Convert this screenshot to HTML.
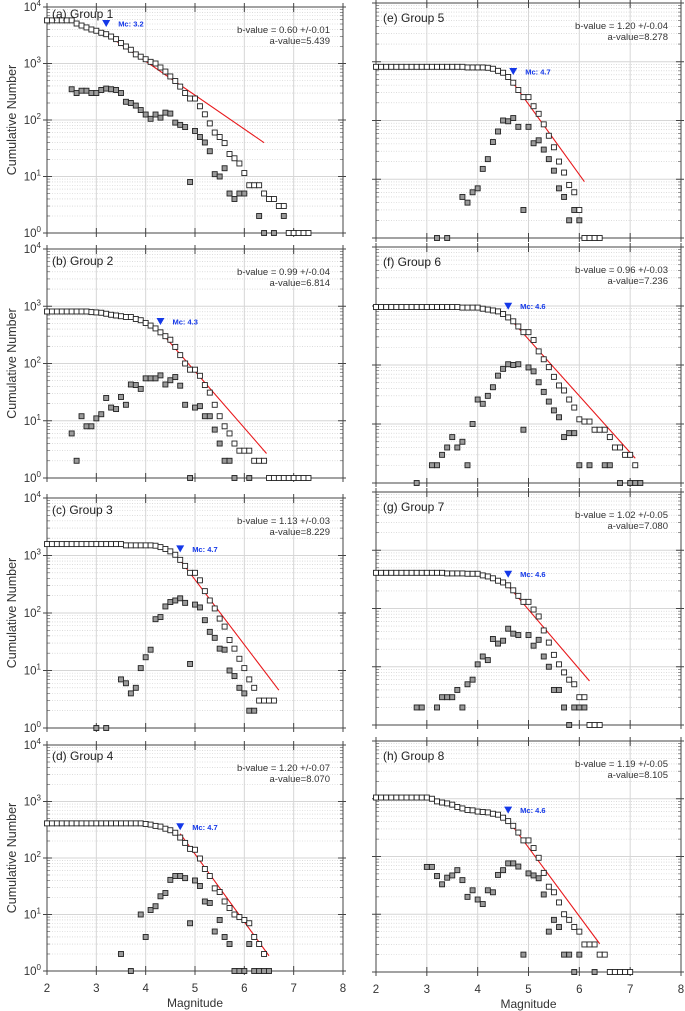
<!DOCTYPE html>
<html><head><meta charset="utf-8">
<style>
html,body{margin:0;padding:0;background:#fff;}
svg{display:block;font-family:"Liberation Sans",Arial,sans-serif;}
</style></head>
<body>
<svg id="fig" width="685" height="1011" viewBox="0 0 685 1011" xmlns="http://www.w3.org/2000/svg"></svg>
<script>
// ---------- DATA ----------
const panelLabels = ["(a) Group 1","(b) Group 2","(c) Group 3","(d) Group 4","(e) Group 5","(f) Group 6","(g) Group 7","(h) Group 8"];
const bValues = [0.60,0.99,1.13,1.20,1.20,0.96,1.02,1.19];
const bErrors = ["0.01","0.04","0.03","0.07","0.04","0.03","0.05","0.05"];
const aValues = [5.439,6.814,8.229,8.070,8.278,7.236,7.080,8.105];
const mcValues = [3.2,4.3,4.7,4.7,4.7,4.6,4.6,4.6];
const lineEnds = [6.4,6.45,6.7,6.5,6.1,7.1,6.2,6.4];
const cumStart = 2.0;
const cumA = [5800,5800,5800,5800,5800,5800,5100,4700,4350,4000,3800,3500,3300,3000,2700,2300,2000,1750,1450,1320,1190,1070,1000,850,720,590,490,390,300,240,240,175,126,87,60,50,39,25,21,17,11.5,7,7,7,5,4,4,3,3,1,1,1,1,1];
const cumB = [810,810,810,810,810,810,810,810,810,790,780,770,740,710,690,670,650,650,600,570,510,460,410,350,300,260,195,140,100,78,78,61,42,31,19,12,8,6,4,3,3,3,2,2,2,1,1,1,1,1,1,1,1,1];
const cumC = [1580,1580,1580,1580,1580,1580,1580,1580,1580,1580,1580,1580,1580,1580,1580,1580,1500,1500,1500,1500,1500,1500,1480,1400,1300,1180,1030,840,660,500,500,370,240,165,120,80,58,34,24,16,11,7,5,3,3,3,3];
const cumD = [410,410,410,410,410,410,410,410,410,410,410,410,410,410,410,410,410,410,410,410,400,390,370,360,330,310,280,230,185,145,140,98,64,48,29,25,17,13,10,9,8,7,4,3,2];
const cumE = [820,820,820,820,820,820,820,820,820,820,820,820,820,820,820,820,820,820,800,800,800,800,790,760,700,650,550,440,330,250,250,175,130,86,55,35,20,13,8,6,3,1,1,1,1];
const cumF = [960,960,960,960,960,960,960,960,960,960,960,960,960,960,960,960,960,940,940,940,940,900,870,840,810,730,640,550,450,360,360,265,170,125,92,63,45,37,26,19,12,11,11,8,8,8,6,4,4,3,3,2];
const cumG = [410,410,410,410,410,410,410,410,410,410,410,410,410,410,400,400,400,400,395,395,395,370,355,330,300,280,250,205,165,130,130,96,73,42,26,16,11,8,6,5,3,3,1,1,1];
const cumH = [1050,1050,1050,1050,1050,1050,1050,1050,1050,1050,1050,1000,900,860,830,790,720,680,640,630,600,590,580,550,530,470,410,340,260,190,190,140,95,52,30,24,16,10,8,6,5,3,3,3,2,2,1,1,1,1,1];
const ncStarts = [2.5,2.5,3.0,3.5,3.2,2.8,2.8,3.0];
const ncA = [350,300,330,330,300,300,340,360,350,340,300,210,200,180,150,125,105,125,110,135,130,90,82,75,8,64,50,40,28,11,10,14,5,4,5,5,null,null,2,1,null,1,null,2];
const ncB = [6,2,12,8,8,11,13,25,17,16,26,19,43,42,36,55,55,55,62,43,51,58,41,19,1,17,18,12,12,7,4,2,2,1,null,null,1];
const ncC = [1,null,1,null,null,7,6,4,5,11,17,23,78,85,130,155,165,180,150,13,140,125,75,47,37,24,23,10,8,5,4,2,2];
const ncD = [2,null,1,null,10,4,12,14,21,24,41,48,48,44,7,40,32,17,16,5,8,4,3,1,1,1,3,1,1,1,1];
const ncE = [1,null,1,null,null,5,4,6,7,15,22,43,65,100,97,110,78,3,78,41,46,32,22,14,7,5,2,3,2];
const ncF = [1,null,null,2,2,3,4,6,4,5,2,10,26,22,30,42,66,86,103,100,103,8,91,78,51,35,24,17,13,6,7,7,2,null,2,null,null,2,2,null,1,null,1,1,1];
const ncG = [2,2,null,null,2,3,3,3,4,2,5,6,11,15,13,30,25,28,45,37,35,null,35,23,29,15,10,4,4,2,1,2,2,2];
const ncH = [66,66,46,33,43,47,58,39,20,26,18,15,26,24,48,58,76,76,67,2,51,47,42,22,5,8,6,2,2,1,2,null,null,1];
const xTicks = [2,3,4,5,6,7,8];
const yDecades = [0,1,2,3,4];

const cumSeries = [cumA,cumB,cumC,cumD,cumE,cumF,cumG,cumH];
const ncSeries = [ncA,ncB,ncC,ncD,ncE,ncF,ncG,ncH];

// ---------- LAYOUT ----------
const boxes = [
  {x0:47,x1:343,top:7,bot:233,left:true,bottom:false,ty:11},
  {x0:47,x1:343,top:249,bot:478,left:true,bottom:false,ty:16},
  {x0:47,x1:343,top:498,bot:728,left:true,bottom:false,ty:16},
  {x0:47,x1:343,top:745,bot:971,left:true,bottom:true,ty:15},
  {x0:376,x1:681,top:3,bot:238,left:false,bottom:false,ty:19},
  {x0:376,x1:681,top:247,bot:483,left:false,bottom:false,ty:19},
  {x0:376,x1:681,top:492,bot:725,left:false,bottom:false,ty:19},
  {x0:376,x1:681,top:741,bot:972,left:false,bottom:true,ty:19}
];
const NS = "http://www.w3.org/2000/svg";
const svg = document.getElementById('fig');
function mk(tag, attrs, parent){
  const e = document.createElementNS(NS, tag);
  for (const k in attrs) e.setAttribute(k, attrs[k]);
  (parent||svg).appendChild(e);
  return e;
}
const r1 = v => Math.round(v*100)/100;

boxes.forEach((bx, i) => {
  const g = mk('g', {});
  
  
  const X = m => bx.x0 + (m - 2) / 6 * (bx.x1 - bx.x0);
  const Y = n => bx.bot - Math.log10(n) / 4 * (bx.bot - bx.top);
  for (let d = 0; d < 4; d++) {
    for (let k = 2; k <= 9; k++) {
      const y = r1(Y(k * Math.pow(10, d)));
      const ln = mk('line', {x1:bx.x0, x2:bx.x1, y1:y, y2:y, stroke:'#c8c8c8', 'stroke-width':0.6, 'stroke-dasharray':'1,1.5'}, g);
      
      
      mk('line', {x1:bx.x0, x2:bx.x0+3, y1:y, y2:y, stroke:'#555', 'stroke-width':0.6}, g);
      mk('line', {x1:bx.x1, x2:bx.x1-3, y1:y, y2:y, stroke:'#555', 'stroke-width':0.6}, g);
    }
  }
  yDecades.forEach(d => {
    const y = r1(Y(Math.pow(10, d)));
    const ln = mk('line', {x1:bx.x0, x2:bx.x1, y1:y, y2:y, stroke:'#d6d6d6', 'stroke-width':1}, g);
    
    
    mk('line', {x1:bx.x0-4, x2:bx.x0+5, y1:y, y2:y, stroke:'#444', 'stroke-width':1}, g);
    mk('line', {x1:bx.x1-5, x2:bx.x1+3, y1:y, y2:y, stroke:'#444', 'stroke-width':1}, g);
    if (bx.left) {
      const t = mk('text', {x:bx.x0-6, y:y+4, 'text-anchor':'end', 'font-size':11.5, fill:'#333'}, g);
      
      
      t.textContent = '10';
      const s = mk('tspan', {dy:-5, 'font-size':8}, t);
      s.textContent = String(d);
    }
  });
  xTicks.forEach(m => {
    const x = r1(X(m));
    const ln = mk('line', {x1:x, x2:x, y1:bx.top, y2:bx.bot, stroke:'#d6d6d6', 'stroke-width':1}, g);
    
    
    mk('line', {x1:x, x2:x, y1:bx.bot-5, y2:bx.bot+4, stroke:'#444', 'stroke-width':1}, g);
    mk('line', {x1:x, x2:x, y1:bx.top-4, y2:bx.top+5, stroke:'#444', 'stroke-width':1}, g);
    if (bx.bottom) {
      const t = mk('text', {x:x, y:bx.bot+21, 'text-anchor':'middle', 'font-size':11.5, fill:'#333'}, g);
      
      
      t.textContent = String(m);
    }
  });
  const fr = mk('rect', {x:bx.x0, y:bx.top, width:bx.x1-bx.x0, height:bx.bot-bx.top, fill:'none', stroke:'#444', 'stroke-width':1}, g);
  
  

  const b = bValues[i], a = aValues[i], mc = mcValues[i], me = lineEnds[i];
  const fit = mk('line', {x1:r1(X(mc)), y1:r1(Y(Math.pow(10, a - b*mc))), x2:r1(X(me)), y2:r1(Y(Math.pow(10, a - b*me))), stroke:'#e8191c', 'stroke-width':1.1}, g);
  
  

  const nc = ncSeries[i];
  nc.forEach((v, k) => {
    if (v === null) return;
    const m = ncStarts[i] + k * 0.1;
    const sq = mk('rect', {x:r1(X(m)-2.5), y:r1(Y(v)-2.5), width:5, height:5, fill:'#9a9a9a', stroke:'#222', 'stroke-width':0.9}, g);
    
    
  });
  const cs = cumSeries[i];
  cs.forEach((v, k) => {
    const m = cumStart + k * 0.1;
    const sq = mk('rect', {x:r1(X(m)-2.5), y:r1(Y(v)-2.5), width:5, height:5, fill:'#fff', stroke:'#222', 'stroke-width':0.9}, g);
    
    
  });

  const ci = Math.round((mc - cumStart) / 0.1);
  const ty = Y(cs[ci] * 1.55), tx = X(mc);
  const tri = mk('polygon', {points: `${r1(tx-4)},${r1(ty-3.5)} ${r1(tx+4)},${r1(ty-3.5)} ${r1(tx)},${r1(ty+3.5)}`, fill:'#1438e8'}, g);
  
  
  const mt = mk('text', {x:r1(tx+12), y:r1(ty+3), 'font-size':7.5, 'font-weight':'bold', fill:'#1438e8'}, g);
  
  
  mt.textContent = 'Mc: ' + mc.toFixed(1);

  const pt = mk('text', {x:bx.x0 + (bx.left ? 5 : 7), y:bx.top + bx.ty, 'font-size':12, fill:'#222'}, g);
  
  
  pt.textContent = panelLabels[i];
  const bt = mk('text', {x:bx.x1 - 13, y:bx.top + 26, 'text-anchor':'end', 'font-size':9.5, fill:'#333'}, g);
  
  
  bt.textContent = 'b-value = ' + b.toFixed(2) + ' +/-' + bErrors[i];
  const at = mk('text', {x:bx.x1 - 13, y:bx.top + 37, 'text-anchor':'end', 'font-size':9.5, fill:'#333'}, g);
  
  
  at.textContent = 'a-value=' + a.toFixed(3);

  if (bx.left) {
    const cy = (bx.top + bx.bot) / 2;
    const yt = mk('text', {x:16, y:cy, 'text-anchor':'middle', 'font-size':12.5, fill:'#333', transform:`rotate(-90 16 ${cy})`}, g);
    
    
    yt.textContent = 'Cumulative Number';
  }
  if (bx.bottom) {
    const xt = mk('text', {x:(bx.x0+bx.x1)/2, y:bx.bot+36, 'text-anchor':'middle', 'font-size':12, fill:'#333'}, g);
    
    
    xt.textContent = 'Magnitude';
  }
});
</script>
</body></html>
